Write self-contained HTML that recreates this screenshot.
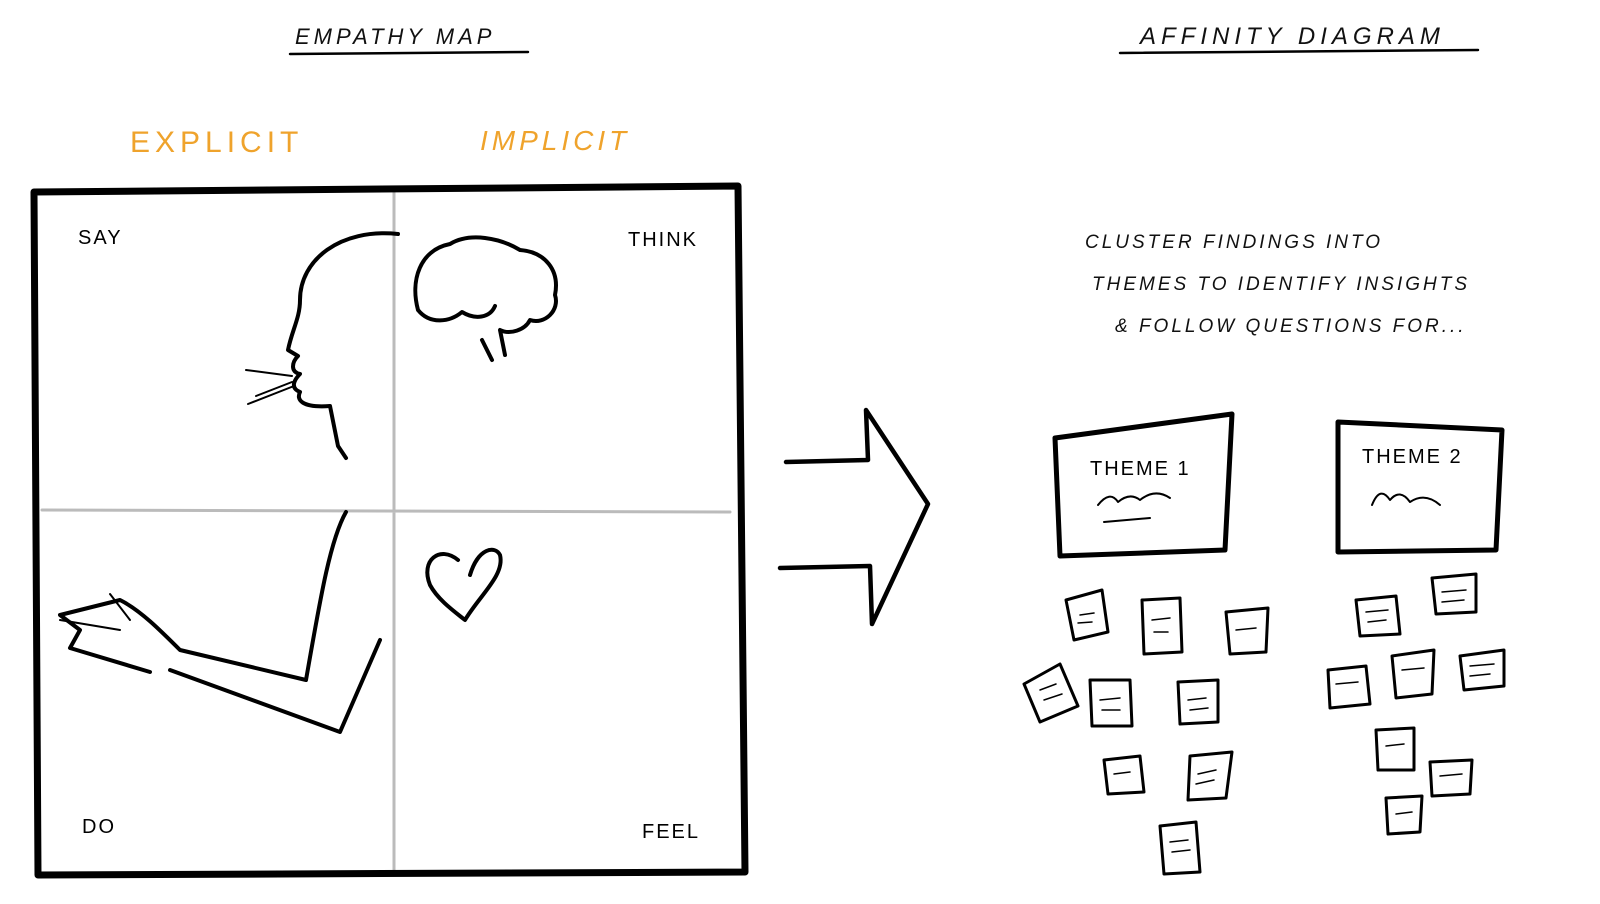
<!DOCTYPE html>
<html><head><meta charset="utf-8"><style>
html,body{margin:0;padding:0;background:#fff;width:1600px;height:904px;overflow:hidden}
svg{display:block}
text{font-family:"Liberation Sans",sans-serif;}
</style></head><body>
<svg width="1600" height="904" viewBox="0 0 1600 904" xmlns="http://www.w3.org/2000/svg">
<g fill="none" stroke="#000" stroke-linecap="round" stroke-linejoin="round">
<!-- titles -->
<text x="295" y="44" font-size="22" letter-spacing="4" fill="#111" stroke="none" font-style="italic">EMPATHY MAP</text>
<path d="M290 54 L528 52" stroke-width="2.5"/>
<text x="1140" y="44" font-size="24" letter-spacing="5" fill="#111" stroke="none" font-style="italic">AFFINITY DIAGRAM</text>
<path d="M1120 53 L1478 50" stroke-width="2.5"/>
<text x="130" y="152" font-size="30" letter-spacing="5" fill="#efa32c" stroke="none">EXPLICIT</text>
<text x="480" y="150" font-size="28" letter-spacing="4" fill="#efa32c" stroke="none" font-style="italic">IMPLICIT</text>
<!-- grid -->
<path d="M394 192 L394 870 M42 510 L730 512" stroke="#bbb" stroke-width="3"/>
<path d="M34 192 L738 186 L745 872 L38 875 Z" stroke-width="7"/>
<text x="78" y="244" font-size="20" letter-spacing="2" fill="#000" stroke="none">SAY</text>
<text x="628" y="246" font-size="20" letter-spacing="2" fill="#000" stroke="none">THINK</text>
<text x="82" y="833" font-size="20" letter-spacing="2" fill="#000" stroke="none">DO</text>
<text x="642" y="838" font-size="20" letter-spacing="2" fill="#000" stroke="none">FEEL</text>
<!-- head -->
<path d="M398 234 C340 228 300 260 300 300 C300 318 292 330 288 350 L298 356 C292 362 290 372 300 374 C294 380 290 388 300 392 C296 400 302 408 330 406 L338 446 L346 458" stroke-width="4"/>
<path d="M292 376 L246 370 M292 382 L256 396 M294 386 L248 404" stroke-width="2"/>
<!-- brain -->
<path d="M418 310 C410 280 420 250 450 244 C470 232 500 238 520 250 C545 252 560 270 555 295 C560 310 545 325 530 320 C525 330 510 335 500 330 L505 355 M482 340 L492 360 M418 310 C430 325 450 322 462 312 C475 320 490 318 495 306" stroke-width="4"/>
<!-- heart -->
<path d="M458 560 C440 545 420 560 430 585 C438 600 455 612 465 620 C480 595 505 575 500 555 C495 545 478 548 470 575" stroke-width="4"/>
<!-- arm -->
<path d="M346 512 C330 540 320 600 306 680 M380 640 L340 732 L170 670 M306 680 L180 650 C160 630 140 610 120 600 L60 615 L80 630 L70 648 L150 672" stroke-width="4"/>
<path d="M110 594 L130 620 M60 620 L120 630" stroke-width="2"/>
<!-- arrow -->
<path d="M786 462 L868 460 L866 410 L928 504 L872 624 L870 566 L780 568" stroke-width="4.5"/>
<!-- text block -->
<g fill="#111" stroke="none" font-size="19" letter-spacing="3" font-style="italic">
<text x="1085" y="248">CLUSTER FINDINGS INTO</text>
<text x="1092" y="290">THEMES TO IDENTIFY INSIGHTS</text>
<text x="1115" y="332">&amp; FOLLOW QUESTIONS FOR...</text>
</g>
<!-- theme cards -->
<path d="M1055 438 L1232 414 L1225 550 L1060 556 Z" stroke-width="5"/>
<text x="1090" y="475" font-size="20" letter-spacing="2" fill="#000" stroke="none">THEME 1</text>
<path d="M1098 505 Q1110 490 1118 502 Q1130 492 1140 500 Q1155 488 1170 498 M1104 522 L1150 518" stroke-width="2"/>
<path d="M1338 422 L1502 430 L1496 550 L1338 552 Z" stroke-width="5"/>
<text x="1362" y="463" font-size="20" letter-spacing="2" fill="#000" stroke="none">THEME 2</text>
<path d="M1372 505 Q1380 485 1390 500 Q1400 488 1410 502 Q1425 492 1440 505" stroke-width="2"/>
<!-- sticky notes -->
<g stroke-width="3">
<path d="M1066 600 L1102 590 L1108 632 L1074 640 Z"/>
<path d="M1142 600 L1180 598 L1182 652 L1144 654 Z"/>
<path d="M1226 612 L1268 608 L1266 652 L1230 654 Z"/>
<path d="M1024 684 L1060 664 L1078 706 L1040 722 Z"/>
<path d="M1090 680 L1130 680 L1132 726 L1092 726 Z"/>
<path d="M1178 682 L1218 680 L1218 722 L1180 724 Z"/>
<path d="M1104 760 L1140 756 L1144 792 L1108 794 Z"/>
<path d="M1190 756 L1232 752 L1226 798 L1188 800 Z"/>
<path d="M1160 826 L1196 822 L1200 872 L1164 874 Z"/>
<path d="M1356 600 L1396 596 L1400 634 L1360 636 Z"/>
<path d="M1432 578 L1476 574 L1476 612 L1436 614 Z"/>
<path d="M1328 670 L1366 666 L1370 704 L1330 708 Z"/>
<path d="M1392 656 L1434 650 L1432 694 L1396 698 Z"/>
<path d="M1460 656 L1504 650 L1504 686 L1464 690 Z"/>
<path d="M1376 730 L1414 728 L1414 770 L1378 770 Z"/>
<path d="M1430 762 L1472 760 L1470 794 L1432 796 Z"/>
<path d="M1386 798 L1422 796 L1420 832 L1388 834 Z"/>
</g>
<g stroke-width="1.5">
<path d="M1080 615 L1094 613 M1078 623 L1092 622 M1152 620 L1170 618 M1154 632 L1168 632 M1236 630 L1256 628 M1040 690 L1056 684 M1044 700 L1062 694 M1100 700 L1120 698 M1102 710 L1120 710 M1188 700 L1206 698 M1190 710 L1208 708 M1114 774 L1130 772 M1198 774 L1216 770 M1196 784 L1214 780 M1170 842 L1188 840 M1172 852 L1190 850 M1366 612 L1388 610 M1368 622 L1386 620 M1442 592 L1466 590 M1442 602 L1464 600 M1336 684 L1358 682 M1402 670 L1424 668 M1470 666 L1494 664 M1470 676 L1490 674 M1386 746 L1404 744 M1440 776 L1462 774 M1396 814 L1412 812"/>
</g>
</g>
</svg>
</body></html>
